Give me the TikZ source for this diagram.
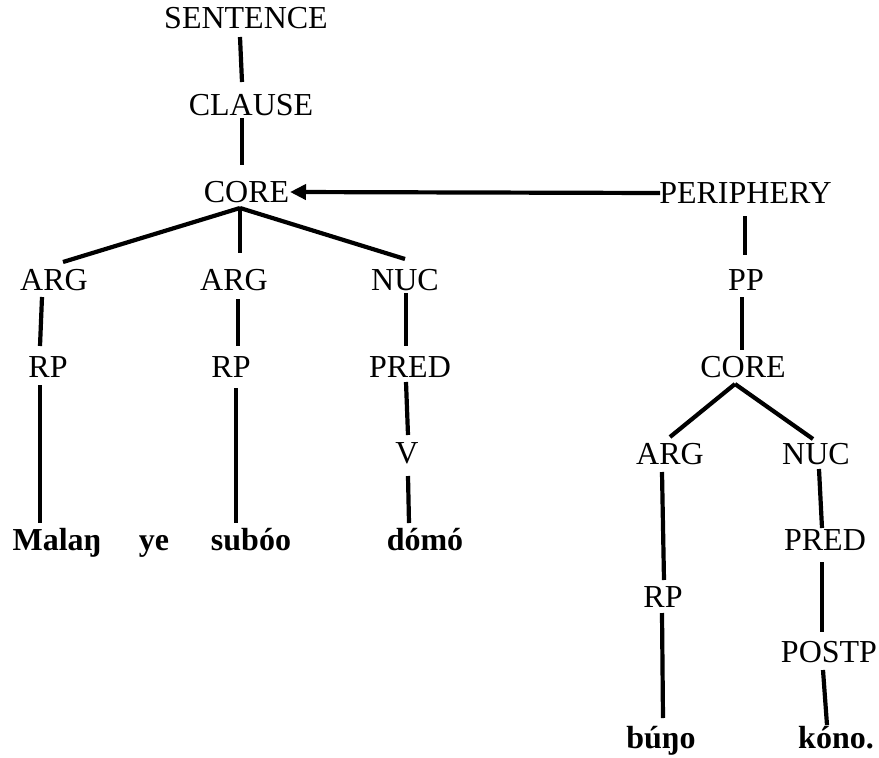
\documentclass[tikz,border=0pt]{standalone}
\usepackage{fontspec}
\setmainfont{Liberation Serif}
\usetikzlibrary{calc,arrows.meta}
\begin{document}
\begin{tikzpicture}[x=1pt,y=-1pt,
  lab/.style={anchor=base,inner sep=0pt,font=\fontsize{32}{38}\selectfont},
  word/.style={lab,font=\fontsize{32}{38}\selectfont\bfseries},
  branch/.style={line width=4.2pt},
  linkarrow/.style={line width=4.2pt,-{Triangle[length=16pt,width=15pt]}}]
\useasboundingbox (0,0) rectangle (879,758);

% main clause
\node[lab] (S)   at (246,28)  {SENTENCE};
\node[lab] (CL)  at (251,115) {CLAUSE};
\node[lab] (C1)  at (246.5,202) {CORE};
\node[lab] (A1)  at (54,290)  {ARG};
\node[lab] (A2)  at (234,290) {ARG};
\node[lab] (N1)  at (405,290) {NUC};
\node[lab] (R1)  at (48,377)  {RP};
\node[lab] (R2)  at (231,377) {RP};
\node[lab] (P1)  at (410,377) {PRED};
\node[lab] (V)   at (407,463) {V};
\node[word] (w1) at (57,550)  {Malaŋ};
\node[word] (w2) at (154,550) {ye};
\node[word] (w3) at (251,550) {subóo};
\node[word] (w4) at (425,550) {dómó};

% periphery
\node[lab] (PE)  at (745.5,203) {PERIPHERY};
\node[lab] (PP)  at (746,290) {PP};
\node[lab] (C2)  at (743,377) {CORE};
\node[lab] (A3)  at (670,464) {ARG};
\node[lab] (N3)  at (816,464) {NUC};
\node[lab] (P2)  at (825,550) {PRED};
\node[lab] (R3)  at (663,607) {RP};
\node[lab] (PO)  at (829,662) {POSTP};
\node[word] (w5) at (661,748) {búŋo};
\node[word] (w6) at (836,748) {kóno.};

% branches of the main clause
\draw[branch] ($(S.base)+(-6,9)$)    -- ($(CL.base)+(-9,-33)$);
\draw[branch] ($(CL.base)+(-9,3)$)   -- ($(C1.base)+(-4.5,-37)$);
\draw[branch] ($(C1.base)+(-6.5,6)$) -- ($(A1.base)+(9,-28)$);
\draw[branch] ($(C1.base)+(-6.5,6)$) -- ($(A2.base)+(6,-37)$);
\draw[branch] ($(C1.base)+(-6.5,6)$) -- ($(N1.base)+(0,-31)$);
\draw[branch] ($(A1.base)+(-12,7)$)  -- ($(R1.base)+(-8,-31)$);
\draw[branch] ($(R1.base)+(-8,8)$)   -- ($(w1.base)+(-17,-27)$);
\draw[branch] ($(A2.base)+(4,9)$)    -- ($(R2.base)+(7,-31)$);
\draw[branch] ($(R2.base)+(5,11)$)   -- ($(w3.base)+(-15,-27)$);
\draw[branch] ($(N1.base)+(1,3)$)    -- ($(P1.base)+(-4,-31)$);
\draw[branch] ($(P1.base)+(-4,5)$)   -- ($(V.base)+(1,-28)$);
\draw[branch] ($(V.base)+(1,13)$)    -- ($(w4.base)+(-16,-27)$);

% periphery attached to the core
\draw[linkarrow] ($(PE.base)+(-85.5,-10)$) -- ($(C1.base)+(43.5,-10)$);

% branches of the periphery
\draw[branch] ($(PE.base)+(-0.5,13)$) -- ($(PP.base)+(-1,-35)$);
\draw[branch] ($(PP.base)+(-4,7)$)    -- ($(C2.base)+(-1,-27)$);
\draw[branch] ($(C2.base)+(-8,7)$)    -- ($(A3.base)+(0,-27)$);
\draw[branch] ($(C2.base)+(-8,7)$)    -- ($(N3.base)+(-3,-25)$);
\draw[branch] ($(A3.base)+(-8,8)$)    -- ($(R3.base)+(1,-27)$);
\draw[branch] ($(R3.base)+(-1,6)$)    -- ($(w5.base)+(2,-30)$);
\draw[branch] ($(N3.base)+(3,5)$)     -- ($(P2.base)+(-3,-22)$);
\draw[branch] ($(P2.base)+(-3,12)$)   -- ($(PO.base)+(-7,-30)$);
\draw[branch] ($(PO.base)+(-6,8)$)    -- ($(w6.base)+(-9,-23)$);
\end{tikzpicture}
\end{document}
